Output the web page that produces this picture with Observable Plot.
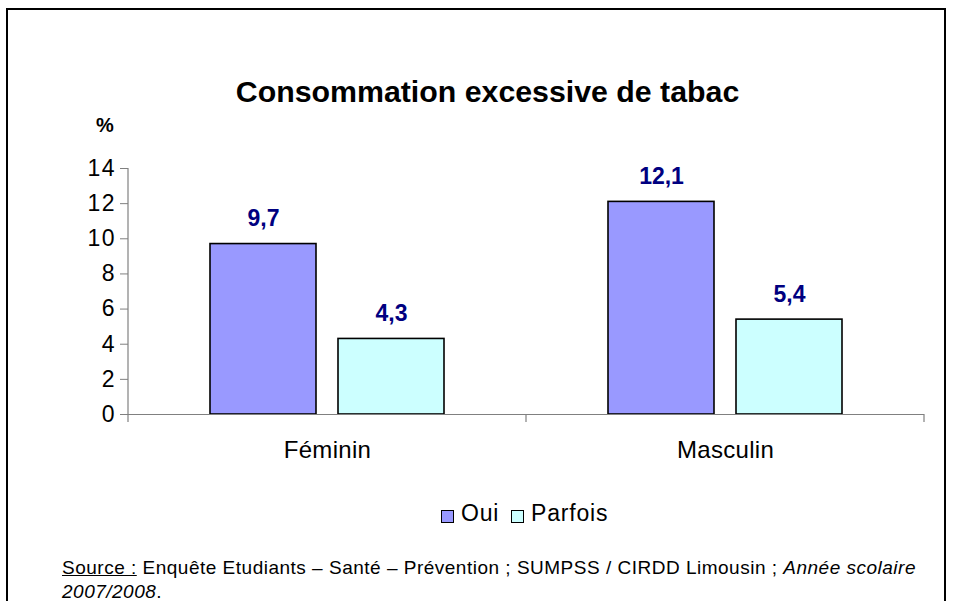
<!DOCTYPE html>
<html>
<head>
<meta charset="utf-8">
<script src="https://cdn.jsdelivr.net/npm/d3@7"></script>
<script src="https://cdn.jsdelivr.net/npm/@observablehq/plot@0.6"></script>
<style>
  html, body { margin: 0; padding: 0; background: #fff; width: 954px; height: 601px; overflow: hidden; }
  body { position: relative; font-family: "Liberation Sans", Arial, sans-serif; color: #000; }
  #frame { position: absolute; left: 6px; top: 8px; width: 940px; height: 640px; border: 2px solid #000; box-sizing: border-box; }
  #chart { position: absolute; left: 0; top: 0; }
  #chart g[aria-label="y-axis tick label"] text { letter-spacing: 1.5px; }
  #chart g[aria-label="fx-axis tick label"] text { letter-spacing: 0.3px; }
  .abs { position: absolute; white-space: nowrap; }
  #title { left: 0; width: 975px; text-align: center; top: 77px; font-size: 30.3px; line-height: 30px; font-weight: bold; }
  #unit { left: 96px; top: 115px; font-size: 20px; line-height: 20px; font-weight: bold; }
  .sw { position: absolute; width: 13px; height: 13px; border: 1px solid #000; box-sizing: border-box; }
  .lg { font-size: 23px; line-height: 23px; top: 502px; letter-spacing: 0.8px; }
  #source { left: 62px; top: 556px; font-size: 19px; line-height: 24px; letter-spacing: 0.5px; }
</style>
</head>
<body>
<div id="frame"></div>
<div id="chart"></div>
<div id="title" class="abs">Consommation excessive de tabac</div>
<div id="unit" class="abs">%</div>
<div id="legend"></div>
<div id="source" class="abs"><span style="text-decoration: underline">Source :</span> Enquête Etudiants – Santé – Prévention ; SUMPSS / CIRDD Limousin ; <i>Année scolaire</i><br><i>2007/2008</i>.</div>
<script>
const groups = ["Féminin", "Masculin"];
const series = ["Oui", "Parfois"];
const oui = [9.7, 12.1];
const parfois = [4.3, 5.4];
const colors = ["#9999FF", "#CCFFFF"];
const yTicks = [0, 2, 4, 6, 8, 10, 12, 14];

const data = [];
groups.forEach((g, i) => {
  data.push({groupe: g, serie: series[0], valeur: oui[i]});
  data.push({groupe: g, serie: series[1], valeur: parfois[i]});
});
const fmt = v => d3.format(".1f")(v).replace(".", ",");
const axisGray = "#808080";

const plot = Plot.plot({
  width: 954,
  height: 470,
  marginLeft: 128,
  marginRight: 30,
  marginTop: 168,
  marginBottom: 56,
  style: {fontFamily: '"Liberation Sans", Arial, sans-serif', background: "transparent"},
  fx: {domain: groups, paddingInner: 0, paddingOuter: 0, label: null},
  x: {domain: series, paddingInner: 0.17, paddingOuter: 0.63, axis: null},
  y: {domain: [0, 14], label: null, axis: null},
  color: {domain: series, range: colors},
  marks: [
    Plot.axisY({ticks: yTicks, tickSize: 8, tickPadding: 4.5, fontSize: 23, stroke: axisGray, fill: "#000", label: null, facetAnchor: "left"}),
    Plot.axisFx({anchor: "bottom", tickSize: 0, tickPadding: 26, fontSize: 24, label: null}),
    Plot.barY(data, {fx: "groupe", x: "serie", y: "valeur", fill: "serie", stroke: "#000", strokeWidth: 1.6}),
    Plot.ruleY([0], {stroke: axisGray, strokeWidth: 1}),
    Plot.text(data, {fx: "groupe", x: "serie", y: "valeur", text: d => fmt(d.valeur), lineAnchor: "bottom", dy: -18, fontSize: 23, fontWeight: "bold", fill: "#000080"})
  ]
});
document.getElementById("chart").appendChild(plot);

// axis line and category boundary ticks from the plot's own scales
const fx = plot.scale("fx");
const ys = plot.scale("y");
const bw = fx.bandwidth;
const bounds = groups.map(g => fx.apply(g)).concat([fx.apply(groups[groups.length - 1]) + bw]);
const svg = d3.select(plot);
const y0 = ys.apply(0);
const yTop = ys.apply(14);
svg.append("line").attr("x1", bounds[0]).attr("x2", bounds[0]).attr("y1", yTop).attr("y2", y0 + 8)
  .attr("stroke", axisGray).attr("stroke-width", 1.2);
bounds.slice(1).forEach(b => {
  svg.append("line").attr("x1", b).attr("x2", b).attr("y1", y0).attr("y2", y0 + 8)
    .attr("stroke", axisGray).attr("stroke-width", 1.2);
});

// legend
const legend = document.getElementById("legend");
const lx = [441, 511];
const tx = [461, 531];
series.forEach((s, i) => {
  const sw = document.createElement("div");
  sw.className = "sw";
  sw.style.left = lx[i] + "px";
  sw.style.top = "510px";
  sw.style.background = colors[i];
  legend.appendChild(sw);
  const t = document.createElement("div");
  t.className = "abs lg";
  t.style.left = tx[i] + "px";
  t.textContent = s;
  legend.appendChild(t);
});
</script>
</body>
</html>
